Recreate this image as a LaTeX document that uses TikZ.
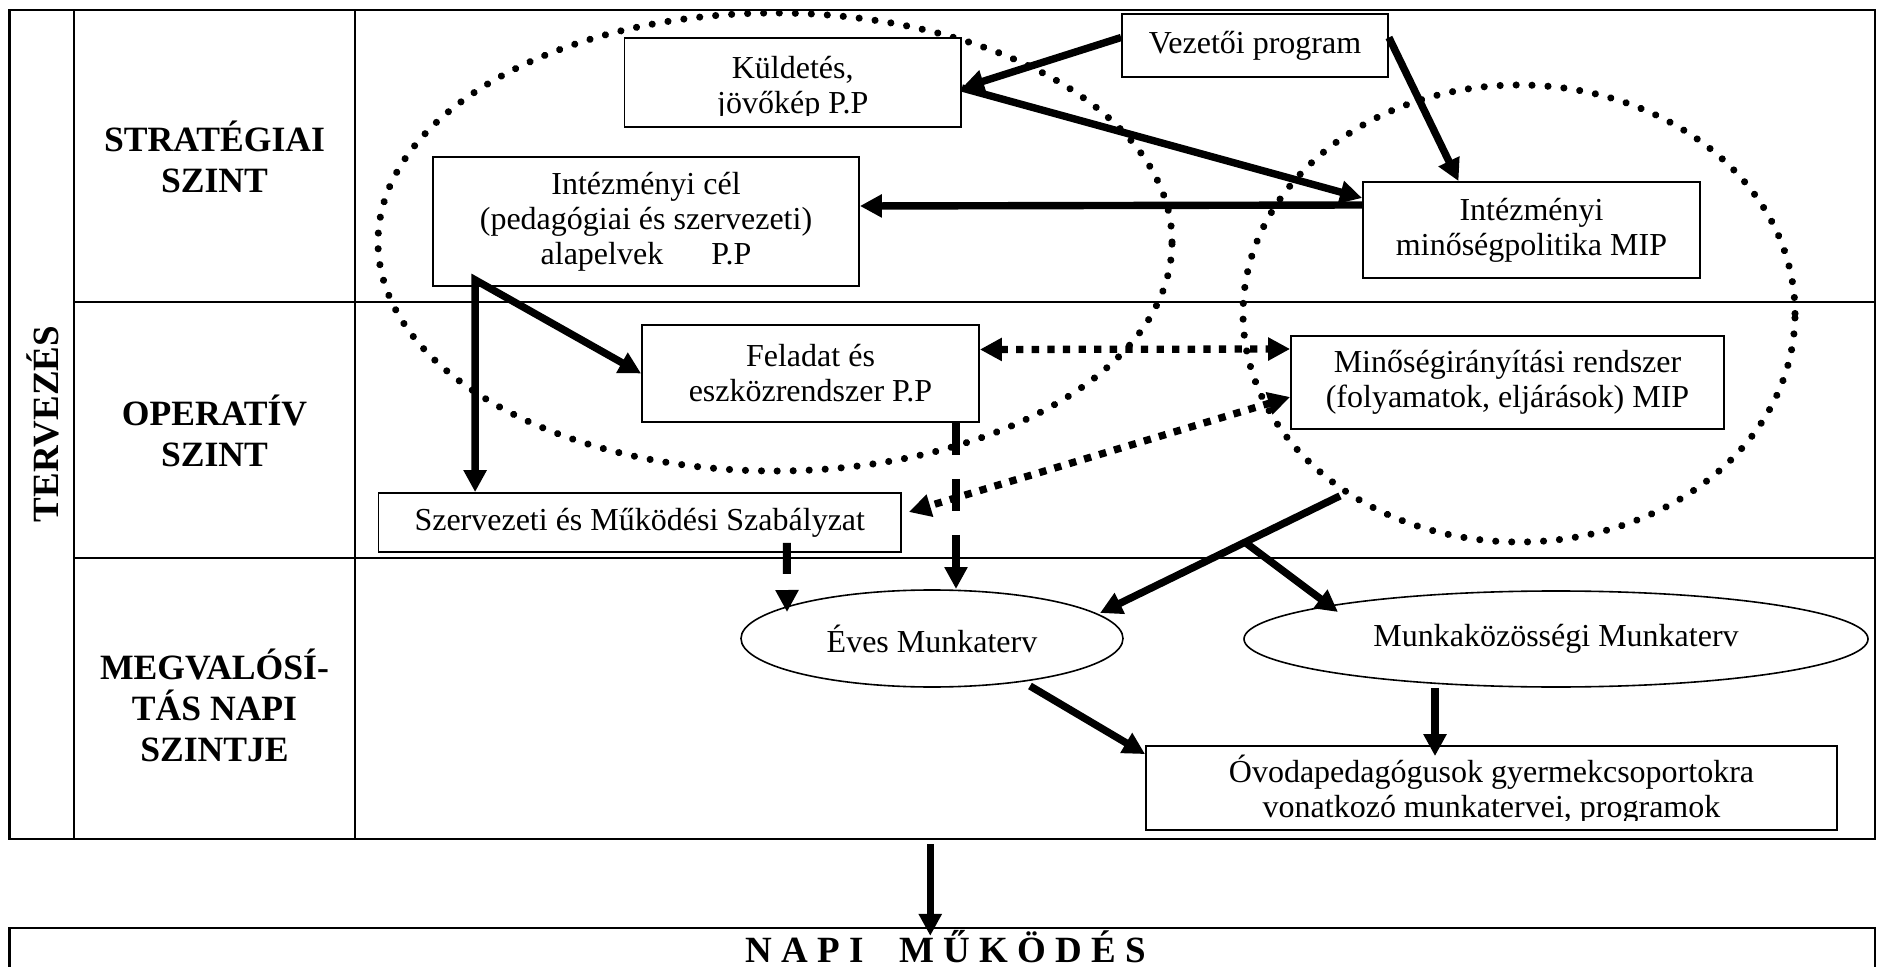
\documentclass[tikz,border=0pt]{standalone}
\usepackage{fontspec}
\setmainfont{Liberation Serif}
\usetikzlibrary{arrows.meta,shapes.geometric,calc,decorations.markings}

\newcommand\diagbody{\fontsize{16}{17.5}\selectfont}
\newcommand\diaglevel{\fontsize{17.8}{20.5}\selectfont\bfseries}
\newcommand\diagside{\fontsize{18.5}{21}\selectfont\bfseries}

\tikzset{
  tiphead/.tip={Triangle[length=11pt,width=11pt]},
  gridframe/.style={draw, line width=1.15pt, inner sep=0pt},
  gridline/.style={line width=1.15pt},
  leveltext/.style={font=\diaglevel, align=center, inner sep=0pt},
  bodytext/.style={font=\diagbody, align=center, inner sep=0pt},
  diagbox/.style={draw, line width=0.9pt, fill=white, inner sep=0pt, align=center, font=\diagbody},
  planoval/.style={ellipse, draw, line width=0.8pt, fill=white, inner sep=0pt, font=\diagbody},
  dotring/.style={postaction={decorate}, decoration={markings,
      mark=between positions 0 and 1 step 8pt with {\fill (0,0) circle [radius=1.78pt];}}},
  solidarrow/.style={line width=3.7pt, -tiphead},
  squaredash/.style={line width=3.65pt, dash pattern=on 3.65pt off 4.15pt},
  longdash/.style={line width=4pt, dash pattern=on 16pt off 12pt},
  shortdash/.style={line width=4pt, dash pattern=on 15.5pt off 9pt},
}

\begin{document}
\begin{tikzpicture}[x=0.5pt,y=-0.5pt]
\useasboundingbox (0,0) rectangle (1878,967);
\clip (0,0) rectangle (1878,967);

% planning table: one merged column, three level rows
\node[gridframe, minimum width=932.75pt, minimum height=414.5pt] (table) at (942.25,424.5) {};
\draw[gridline] (74,10) -- (74,839);
\draw[gridline] (355,10) -- (355,839);
\draw[gridline] (74,302) -- (1875,302);
\draw[gridline] (74,558) -- (1875,558);

\node[leveltext, font=\diagside, rotate=90] (terv) at (42.5,424) {TERVEZÉS};
\node[leveltext] (strat) at (214.5,157) {STRATÉGIAI\\SZINT};
\node[leveltext] (oper) at (214.5,431) {OPERATÍV\\SZINT};
\node[leveltext] (megv) at (214.5,705) {MEGVALÓSÍ-\\TÁS NAPI\\SZINTJE};

% daily operation strip
\node[gridframe, minimum width=932.75pt, minimum height=41pt] (napi) at (942.25,969) {};
\node[leveltext, font=\diagside, anchor=base] (napitext) at (946,962) {N A P I\hspace{18pt}M Ű K Ö D É S};

% dotted groupings
\path[dotring] (775,242) ellipse [x radius=198.5pt, y radius=114.5pt];
\path[dotring] (1519,313.5) ellipse [x radius=138pt, y radius=114.25pt];

% documents
\node[diagbox, minimum width=133pt, minimum height=31.5pt] (vez) at (1255,45.5) {Vezetői program};
\node[diagbox, minimum width=168.25pt, minimum height=44.5pt] (kuld) at (792.75,82.5) {};
\begin{scope}
  \clip (kuld.north west) rectangle ([yshift=6pt]kuld.south east);
  \node[bodytext] (kuldtext) at ([yshift=-2.75pt]kuld.center) {Küldetés,\\jövőkép P.P};
\end{scope}
\node[diagbox, minimum width=213pt, minimum height=64.5pt] (cel) at (646,221.5)
  {Intézményi cél\\(pedagógiai és szervezeti)\\alapelvek\hspace{24pt}P.P};
\node[diagbox, minimum width=168.5pt, minimum height=48pt] (mip) at (1531.5,230)
  {Intézményi\\minőségpolitika MIP};
\node[diagbox, minimum width=168.5pt, minimum height=48.5pt] (fel) at (810.5,373.5)
  {Feladat és\\eszközrendszer P.P};
\node[diagbox, minimum width=216.5pt, minimum height=46.5pt] (mir) at (1507.5,382.5)
  {Minőségirányítási rendszer\\(folyamatok, eljárások) MIP};
\node[diagbox, minimum width=261.25pt, minimum height=29.5pt] (szmsz) at (639.75,522.5)
  {Szervezeti és Működési Szabályzat};
\node[planoval, minimum width=191pt, minimum height=48.5pt] (eves) at (932,638.5) {Éves Munkaterv};
\node[planoval, minimum width=312pt, minimum height=48pt] (mkm) at (1556,639) {Munkaközösségi Munkaterv};
\node[diagbox, minimum width=345.5pt, minimum height=42pt] (ovoda) at (1491.5,788) {};
\begin{scope}
  \clip (ovoda.north west) rectangle ([yshift=5pt]ovoda.south east);
  \node[bodytext] (ovodatext) at ([yshift=-1pt]ovoda.center)
    {Óvodapedagógusok gyermekcsoportokra\\vonatkozó munkatervei, programok};
\end{scope}

% strategic links
\draw[solidarrow] ([yshift=4pt]vez.west) -- ([yshift=-2.75pt]kuld.east);
\draw[solidarrow] ([yshift=-2.75pt]kuld.east) -- ([yshift=16pt]mip.west);
\draw[solidarrow] ([yshift=4pt]vez.east) -- ([xshift=-36.5pt]mip.north);
\draw[solidarrow] ([yshift=12.5pt]mip.west) -- ([yshift=7.75pt]cel.east);

\coordinate (celfoot) at ([xshift=21.5pt,yshift=3.5pt]cel.south west);
\coordinate (celdrop) at (celfoot |- szmsz.north);
\draw[solidarrow, tiphead-tiphead] (fel.west) -- (celfoot) -- (celdrop);

% operative links
\draw[squaredash, tiphead-tiphead] ([yshift=12pt]fel.east) -- ([yshift=16.75pt]mir.west);
\draw[squaredash, tiphead-tiphead] ([yshift=-7.25pt]mir.west) -- ([xshift=3.5pt,yshift=5.25pt]szmsz.east);
\draw[longdash, -tiphead] ([xshift=72.75pt]fel.south) -- ([xshift=12pt,yshift=24.75pt]eves.center);
\draw[shortdash, -tiphead] ([xshift=73.6pt,yshift=5pt]szmsz.south) -- ([xshift=-72.5pt,yshift=13.25pt]eves.center);

\coordinate (mirfoot) at ([xshift=-83.75pt,yshift=-33pt]mir.south);
\coordinate (evestop) at ([xshift=84pt,yshift=12.75pt]eves.center);
\coordinate (fork) at ($(mirfoot)!0.396!(evestop)$);
\draw[solidarrow] (mirfoot) -- (evestop);
\draw[solidarrow] (fork) -- ([xshift=-109pt,yshift=13.5pt]mkm.center);

% daily level links
\draw[solidarrow] ([xshift=49pt,yshift=-23.75pt]eves.center) -- ([yshift=-4.5pt]ovoda.north west);
\coordinate (mkmfoot) at ([xshift=-60.5pt]mkm.south);
\coordinate (ovodatop) at (mkmfoot |- ovoda.north);
\draw[solidarrow] (mkmfoot) -- ([yshift=-5.5pt]ovodatop);

\draw[solidarrow] ([xshift=-6pt,yshift=-2pt]table.south) -- ([xshift=-6pt,yshift=-4.5pt]napi.north);
\end{tikzpicture}
\end{document}
